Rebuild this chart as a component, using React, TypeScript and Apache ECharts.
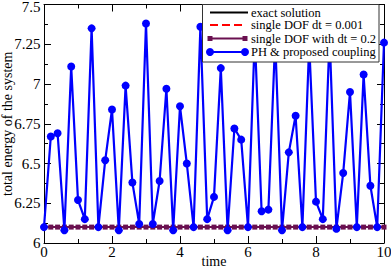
import React, { useEffect, useRef } from "react";
import * as echarts from "echarts";

const times = [
  0, 0.2, 0.4, 0.6, 0.8, 1, 1.2, 1.4, 1.6, 1.8,
  2, 2.2, 2.4, 2.6, 2.8, 3, 3.2, 3.4, 3.6, 3.8,
  4, 4.2, 4.4, 4.6, 4.8, 5, 5.2, 5.4, 5.6, 5.8,
  6, 6.2, 6.4, 6.6, 6.8, 7, 7.2, 7.4, 7.6, 7.8,
  8, 8.2, 8.4, 8.6, 8.8, 9, 9.2, 9.4, 9.6, 9.8, 10,
];

const phCoupling = [
  6.1, 6.67, 6.69, 6.08, 7.11, 6.27, 6.15, 7.35, 6.1, 6.52,
  6.84, 6.08, 6.99, 6.38, 6.12, 7.38, 6.12, 6.39, 6.97, 6.08,
  6.86, 6.5, 6.1, 7.36, 6.15, 6.29, 7.1, 6.08, 6.72, 6.65,
  6.1, 7.3, 6.2, 6.21, 7.28, 6.08, 6.57, 6.8, 6.1, 7.25,
  6.26, 6.15, 7.3, 6.09, 6.44, 6.95, 6.1, 7.06, 6.36, 6.1, 7.26,
];

const singleDofCoarse = [
  6.1, 6.1, 6.1, 6.1, 6.1, 6.1, 6.1, 6.1, 6.1, 6.1,
  6.1, 6.1, 6.1, 6.1, 6.1, 6.1, 6.1, 6.1, 6.1, 6.1,
  6.1, 6.1, 6.1, 6.1, 6.1, 6.1, 6.1, 6.1, 6.1, 6.1,
  6.1, 6.1, 6.1, 6.1, 6.1, 6.1, 6.1, 6.1, 6.1, 6.1,
  6.1, 6.1, 6.1, 6.1, 6.1, 6.1, 6.1, 6.1, 6.1, 6.1, 6.1,
];

const exactTimes = [0, 10];
const exactEnergy = [6.1, 6.1];
const fineTimes = [0, 10];
const fineEnergy = [6.1, 6.1];

const seriesNames = [
  "exact solution",
  "single DOF dt = 0.001",
  "single DOF with dt = 0.2",
  "PH & proposed coupling",
];

const FONT = "Liberation Serif";
const BLUE = "#0000ff";
const MAROON = "#6a1050";
const RED = "#ff0000";

const pairs = (xs: number[], ys: number[]) => xs.map((x, i) => [x, ys[i]]);

export default function App() {
  const ref = useRef<HTMLDivElement>(null);
  useEffect(() => {
    if (!ref.current) return;
    const chart = echarts.init(ref.current, undefined, { renderer: "svg" });
    const tickCommon = {
      axisLine: { show: true, onZero: false, lineStyle: { color: "#000", width: 1 } },
      axisTick: { show: true, inside: true, length: 7, lineStyle: { color: "#000" } },
      minorTick: { show: true, splitNumber: 2, length: 4, lineStyle: { color: "#000" } },
      splitLine: { show: false },
      minorSplitLine: { show: false },
    };
    const lx = 210;
    const rx = 245;
    const rows = [12.5, 25, 38.5, 52];
    chart.setOption({
      animation: false,
      backgroundColor: "#fff",
      textStyle: { fontFamily: FONT },
      grid: {
        left: 44,
        right: 7,
        top: 4.5,
        bottom: 26,
        containLabel: false,
        outerBoundsMode: "none",
      },
      xAxis: [
        {
          type: "value",
          min: 0,
          max: 10,
          interval: 2,
          position: "bottom",
          name: "time",
          nameLocation: "middle",
          nameGap: 11,
          nameMoveOverlap: false,
          nameTextStyle: { fontFamily: FONT, fontSize: 14, color: "#000" },
          axisLabel: { fontFamily: FONT, fontSize: 15, color: "#000", margin: 1 },
          ...tickCommon,
        },
        {
          type: "value",
          min: 0,
          max: 10,
          interval: 2,
          position: "top",
          axisLabel: { show: false },
          ...tickCommon,
        },
      ],
      yAxis: [
        {
          type: "value",
          min: 6,
          max: 7.5,
          interval: 0.25,
          position: "left",
          name: "total energy of the system",
          nameLocation: "middle",
          nameGap: 30,
          nameMoveOverlap: false,
          nameTextStyle: { fontFamily: FONT, fontSize: 14, color: "#000" },
          axisLabel: {
            fontFamily: FONT,
            fontSize: 15,
            color: "#000",
            margin: 3.5,
            formatter: (v: number) => (v === 7.5 ? "{top|7.5}" : String(v)),
            rich: {
              top: { fontFamily: FONT, fontSize: 15, color: "#000", padding: [4, 0, 0, 0] },
            },
          },
          ...tickCommon,
        },
        {
          type: "value",
          min: 6,
          max: 7.5,
          interval: 0.25,
          position: "right",
          axisLabel: { show: false },
          ...tickCommon,
        },
      ],
      series: [
        {
          name: seriesNames[0],
          type: "line",
          data: pairs(exactTimes, exactEnergy),
          showSymbol: false,
          lineStyle: { color: "#000", width: 2 },
          z: 2,
        },
        {
          name: seriesNames[1],
          type: "line",
          data: pairs(fineTimes, fineEnergy),
          showSymbol: false,
          lineStyle: { color: RED, width: 2, type: [8, 4] },
          z: 3,
        },
        {
          name: seriesNames[2],
          type: "line",
          data: pairs(times, singleDofCoarse),
          symbol: "rect",
          symbolSize: 5,
          itemStyle: { color: MAROON },
          lineStyle: { color: MAROON, width: 2 },
          z: 4,
        },
        {
          name: seriesNames[3],
          type: "line",
          data: pairs(times, phCoupling),
          symbol: "circle",
          symbolSize: 8,
          itemStyle: { color: BLUE },
          lineStyle: { color: BLUE, width: 2.2 },
          z: 5,
        },
      ],
      graphic: [
        {
          type: "group",
          z: 100,
          children: [
            {
              type: "rect",
              shape: { x: 202.5, y: 4.5, width: 176.5, height: 57.5 },
              style: { fill: "#fff", stroke: "#333", lineWidth: 1 },
              z: 100,
            },
            {
              type: "line",
              shape: { x1: lx, y1: rows[0], x2: rx + 3, y2: rows[0] },
              style: { stroke: "#000", lineWidth: 2 },
              z: 101,
            },
            {
              type: "line",
              shape: { x1: lx, y1: rows[1], x2: rx + 1, y2: rows[1] },
              style: { stroke: RED, lineWidth: 2, lineDash: [8, 4] },
              z: 101,
            },
            {
              type: "line",
              shape: { x1: lx, y1: rows[2], x2: rx, y2: rows[2] },
              style: { stroke: MAROON, lineWidth: 2 },
              z: 101,
            },
            {
              type: "rect",
              shape: { x: lx - 2.5, y: rows[2] - 2.5, width: 5, height: 5 },
              style: { fill: MAROON },
              z: 102,
            },
            {
              type: "rect",
              shape: { x: rx - 2.5, y: rows[2] - 2.5, width: 5, height: 5 },
              style: { fill: MAROON },
              z: 102,
            },
            {
              type: "line",
              shape: { x1: lx, y1: rows[3], x2: rx, y2: rows[3] },
              style: { stroke: BLUE, lineWidth: 2 },
              z: 101,
            },
            {
              type: "circle",
              shape: { cx: lx, cy: rows[3], r: 4 },
              style: { fill: BLUE },
              z: 102,
            },
            {
              type: "circle",
              shape: { cx: rx, cy: rows[3], r: 4 },
              style: { fill: BLUE },
              z: 102,
            },
            ...seriesNames.map((name, i) => ({
              type: "text",
              x: 251,
              y: rows[i],
              z: 103,
              style: {
                text: name,
                fontFamily: FONT,
                fontSize: 12.5,
                fill: "#000",
                verticalAlign: "middle",
                align: "left",
              },
            })),
          ],
        },
      ],
    });
    return () => chart.dispose();
  }, []);
  return (
    <div
      ref={ref}
      style={{ position: "fixed", left: 0, top: 0, width: 391, height: 269 }}
    />
  );
}
